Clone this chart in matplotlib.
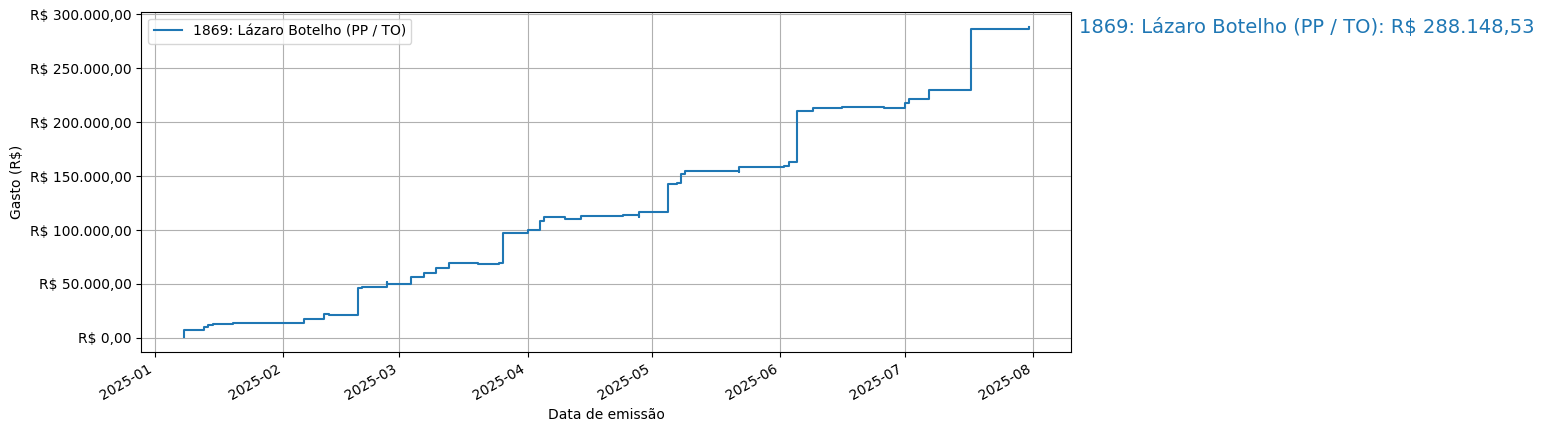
import matplotlib
matplotlib.use("Agg")
import matplotlib.pyplot as plt
import matplotlib.ticker as mticker
import matplotlib.transforms as mtransforms
import numpy as np

# Cumulative spending per issue date
deputado = "1869: Lázaro Botelho (PP / TO)"

datas = [
    "2025-01-08", "2025-01-08", "2025-01-13", "2025-01-14", "2025-01-15",
    "2025-01-20", "2025-02-06", "2025-02-11", "2025-02-12", "2025-02-19",
    "2025-02-20", "2025-02-26", "2025-02-26", "2025-03-04", "2025-03-07",
    "2025-03-10", "2025-03-13", "2025-03-20", "2025-03-25", "2025-03-26",
    "2025-04-01", "2025-04-04", "2025-04-05", "2025-04-10", "2025-04-14",
    "2025-04-24", "2025-04-28", "2025-04-28", "2025-05-05", "2025-05-07",
    "2025-05-08", "2025-05-09", "2025-05-22", "2025-05-22", "2025-06-02",
    "2025-06-03", "2025-06-05", "2025-06-09", "2025-06-16", "2025-06-26",
    "2025-07-01", "2025-07-01", "2025-07-02", "2025-07-07", "2025-07-17",
    "2025-07-31",
]

gasto_acumulado = [
    950, 7200, 10500, 11800, 12700,
    13300, 17400, 22000, 20800, 45900,
    46800, 51800, 49600, 56100, 59900,
    65200, 69200, 68300, 69200, 97100,
    99600, 108300, 112000, 110500, 113000,
    113600, 112000, 116700, 142500, 143700,
    151800, 155000, 153500, 158600, 159200,
    163200, 210700, 213500, 214400, 213500,
    215400, 218200, 221300, 229700, 286800,
    288148.53,
]


def formata_real(valor, pos=None):
    # Brazilian currency format: R$ 1.234,56
    texto = f"{valor:,.2f}".replace(",", "X").replace(".", ",").replace("X", ".")
    return f"R$ {texto}"


datas_np = np.array(datas, dtype="datetime64[D]")
valores = np.array(gasto_acumulado)

fig, ax = plt.subplots(figsize=(15.44, 4.32), dpi=100)

linha, = ax.plot(datas_np, valores, drawstyle="steps-post", label=deputado)

# Final total written to the right of the axes, at the height of the last value
trans = mtransforms.blended_transform_factory(ax.transAxes, ax.transData)
ax.text(1.008, valores[-1], f"{deputado}: {formata_real(valores[-1])}",
        transform=trans, color=linha.get_color(), fontsize=14,
        va="center", ha="left")

ax.yaxis.set_major_formatter(mticker.FuncFormatter(formata_real))
ax.set_xlabel("Data de emissão")
ax.set_ylabel("Gasto (R$)")
ax.grid(True)
ax.legend(loc="upper left")

fig.autofmt_xdate()
fig.subplots_adjust(left=0.0915, right=0.6938, bottom=0.1845, top=0.973)

fig.savefig("out.png", dpi=100)
